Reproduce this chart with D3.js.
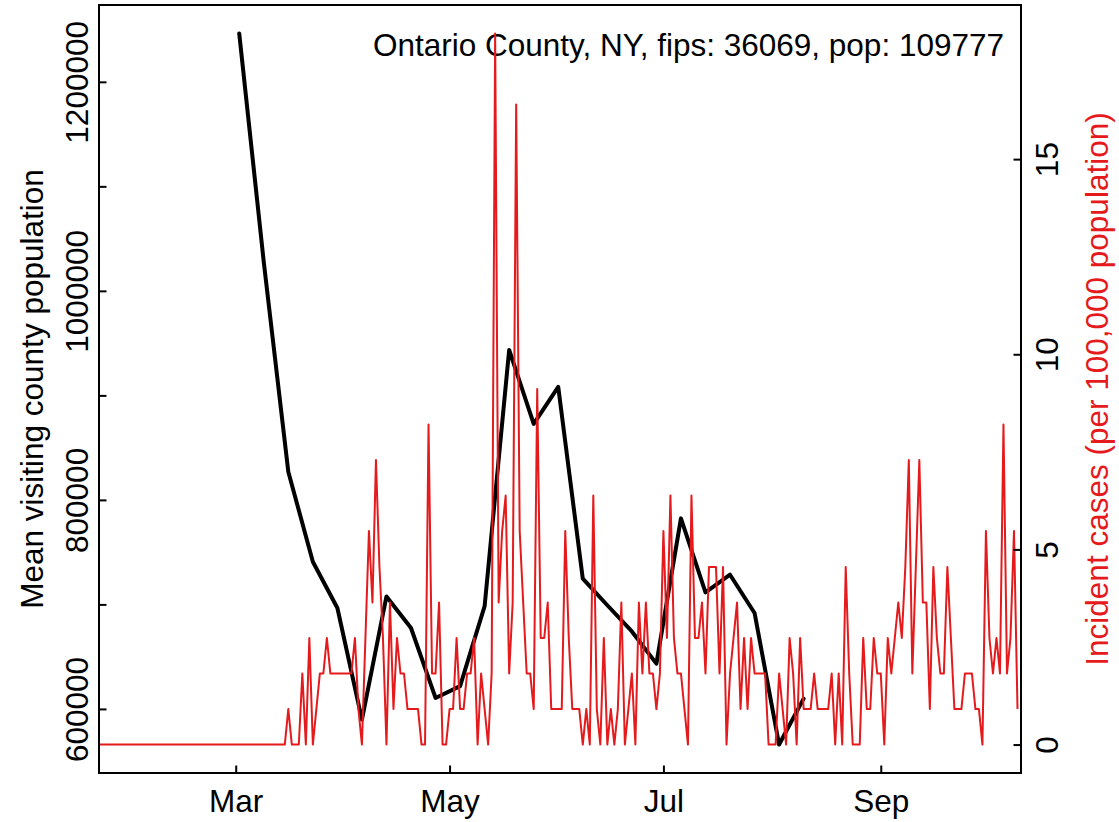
<!DOCTYPE html>
<html><head><meta charset="utf-8">
<script src="https://cdn.jsdelivr.net/npm/d3@7"></script>
<style>
html,body{margin:0;padding:0;background:#fff;}
svg{display:block;font-family:"Liberation Sans",Arial,Helvetica,sans-serif;}
</style>
</head><body>
<svg id="chart" width="1119" height="822"></svg>
<script>
// ---------- data ----------
const titleText = "Ontario County, NY, fips: 36069, pop: 109777";
const leftAxisTitle = "Mean visiting county population";
const rightAxisTitle = "Incident cases (per 100,000 population)";

// daily incident cases per 100,000 population, starting 2020-01-22
const caseStartDate = "2020-01-22";
const incidentRate = [
  0,0,0,0,0,0,0,0,0,0,
  0,0,0,0,0,0,0,0,0,0,
  0,0,0,0,0,0,0,0,0,0,
  0,0,0,0,0,0,0,0,0,0,
  0,0,0,0,0,0,0,0,0,0,
  0,0,0,0,0.91,0,0,0,1.82,0,
  2.73,0,0.91,1.82,1.82,2.73,1.82,1.82,1.82,1.82,
  1.82,1.82,1.82,2.73,0.91,0,2.73,5.47,3.64,7.29,
  4.55,2.73,0,3.64,0.91,2.73,1.82,1.82,0.91,0.91,
  0.91,0.91,0,0,8.20,1.82,1.82,3.64,0,0,
  0.91,0.91,2.73,0.91,0.91,1.82,1.82,2.73,0,1.82,
  0.91,0,1.82,18.22,3.64,5.47,6.38,1.82,3.64,16.40,
  5.47,3.64,1.82,1.82,0.91,9.11,2.73,2.73,3.64,0.91,
  0.91,0.91,0.91,5.47,2.73,0.91,0.91,0.91,0,0.91,
  0,6.38,0.91,0,2.73,0,0.91,0,0.91,3.64,
  0,0.91,1.82,0,3.64,1.82,3.64,1.82,1.82,0.91,
  1.82,5.47,2.73,6.38,2.73,1.82,1.82,0.91,0,6.38,
  2.73,2.73,3.64,1.82,4.55,4.55,4.55,1.82,4.55,0,
  1.82,2.73,3.64,0.91,2.73,0.91,2.73,1.82,1.82,1.82,
  1.82,0,0,0,1.82,0.91,0,2.73,1.82,0,
  2.73,0.91,0.91,0.91,1.82,0.91,0.91,0.91,0.91,1.82,
  0,1.82,0,4.55,1.82,0,0,0,2.73,0.91,
  0.91,2.73,1.82,1.82,0,2.73,1.82,2.73,3.64,2.73,
  4.55,7.29,1.82,4.55,7.29,3.64,3.64,0.91,4.55,2.73,
  1.82,1.82,4.55,2.73,0.91,0.91,0.91,1.82,1.82,1.82,
  0.91,0.91,0,5.47,2.73,1.82,2.73,1.82,8.20,1.82,
  2.73,5.47,0.91
];

// weekly mean visiting county population
const visitDates = [
  "2020-03-02","2020-03-09","2020-03-16","2020-03-23","2020-03-30",
  "2020-04-06","2020-04-13","2020-04-20","2020-04-27","2020-05-04",
  "2020-05-11","2020-05-18","2020-05-25","2020-06-01","2020-06-08",
  "2020-06-15","2020-06-22","2020-06-29","2020-07-06","2020-07-13",
  "2020-07-20","2020-07-27","2020-08-03","2020-08-10"
];
const visitingPop = [
  1246300,1027600,826900,740800,696600,
  589800,707600,677400,610500,621800,
  698400,943500,872700,908100,724600,
  699200,674100,643300,782300,711500,
  728400,691800,565900,609800
];

const xDomainDates = ["2020-01-22","2020-10-11"];
const xTickDates = ["2020-03-01","2020-05-01","2020-07-01","2020-09-01"];
const xTickLabels = ["Mar","May","Jul","Sep"];
const leftTicks = [600000,700000,800000,900000,1000000,1100000,1200000];
const leftLabelled = [600000,800000,1000000,1200000];
const rightTicks = [0,5,10,15];

// ---------- layout ----------
const W = 1119, H = 822;
const box = {left: 99, right: 1021, top: 5, bottom: 773};
const RED = "#E41A1C";
const FS = 31.5;

const parse = d3.utcParse("%Y-%m-%d");
const svg = d3.select("#chart");

svg.append("rect").attr("width", W).attr("height", H).attr("fill", "#fff");

const x = d3.scaleUtc()
  .domain(xDomainDates.map(parse))
  .range([box.left, box.right]);

function padExtent(vals) {
  const [lo, hi] = d3.extent(vals);
  const p = (hi - lo) * 0.04;
  return [lo - p, hi + p];
}

const yL = d3.scaleLinear().domain(padExtent(visitingPop)).range([box.bottom, box.top]);
const yR = d3.scaleLinear().domain(padExtent(incidentRate)).range([box.bottom, box.top]);

svg.append("clipPath").attr("id", "clip")
  .append("rect")
  .attr("x", box.left).attr("y", box.top)
  .attr("width", box.right - box.left).attr("height", box.bottom - box.top);

const start = parse(caseStartDate);
const caseData = incidentRate.map((v, i) => ({date: d3.utcDay.offset(start, i), v}));
const visitData = visitDates.map((d, i) => ({date: parse(d), v: visitingPop[i]}));

// black line
svg.append("path")
  .datum(visitData)
  .attr("clip-path", "url(#clip)")
  .attr("fill", "none")
  .attr("stroke", "#000")
  .attr("stroke-width", 4)
  .attr("stroke-linejoin", "round")
  .attr("stroke-linecap", "round")
  .attr("d", d3.line().x(d => x(d.date)).y(d => yL(d.v)));

// title
svg.append("text")
  .attr("x", 1004).attr("y", 56)
  .attr("text-anchor", "end")
  .attr("font-size", FS)
  .attr("fill", "#000")
  .text(titleText);

// red line
svg.append("path")
  .datum(caseData)
  .attr("clip-path", "url(#clip)")
  .attr("fill", "none")
  .attr("stroke", RED)
  .attr("stroke-width", 2)
  .attr("stroke-linejoin", "round")
  .attr("d", d3.line().x(d => x(d.date)).y(d => yR(d.v)));

// axes
const axL = svg.append("g").attr("transform", `translate(${box.left},0)`)
  .call(d3.axisLeft(yL).tickValues(leftTicks).tickSizeInner(-7.5).tickSizeOuter(0)
    .tickFormat(d => leftLabelled.includes(d) ? String(d) : ""));
axL.selectAll("text")
  .attr("x", null).attr("dy", null)
  .attr("transform", "translate(-11,0) rotate(-90)")
  .attr("text-anchor", "middle");

const axR = svg.append("g").attr("transform", `translate(${box.right},0)`)
  .call(d3.axisRight(yR).tickValues(rightTicks).tickSizeInner(-7.5).tickSizeOuter(0)
    .tickFormat(d3.format("d")));
axR.selectAll("text")
  .attr("x", null).attr("dy", null)
  .attr("transform", "translate(37,0) rotate(-90)")
  .attr("text-anchor", "middle");

const axB = svg.append("g").attr("transform", `translate(0,${box.bottom})`)
  .call(d3.axisBottom(x).tickValues(xTickDates.map(parse)).tickSizeInner(-7.5).tickSizeOuter(0)
    .tickFormat((d, i) => xTickLabels[i]));
axB.selectAll("text").attr("y", 39).attr("dy", null);

[axL, axR, axB].forEach(g => {
  g.select(".domain").remove();
  g.selectAll("line").attr("stroke", "#000").attr("stroke-width", 2);
  g.selectAll("text").attr("font-size", FS).attr("fill", "#000")
    .attr("font-family", '"Liberation Sans",Arial,Helvetica,sans-serif');
});

// box
svg.append("rect")
  .attr("x", box.left).attr("y", box.top)
  .attr("width", box.right - box.left).attr("height", box.bottom - box.top)
  .attr("fill", "none").attr("stroke", "#000").attr("stroke-width", 2);

// axis titles
const midY = (box.top + box.bottom) / 2;
svg.append("text")
  .attr("transform", `translate(43,${midY}) rotate(-90)`)
  .attr("text-anchor", "middle")
  .attr("font-size", FS)
  .attr("fill", "#000")
  .text(leftAxisTitle);

svg.append("text")
  .attr("transform", `translate(1108,${midY}) rotate(-90)`)
  .attr("text-anchor", "middle")
  .attr("font-size", FS)
  .attr("fill", RED)
  .text(rightAxisTitle);
</script>
</body></html>
